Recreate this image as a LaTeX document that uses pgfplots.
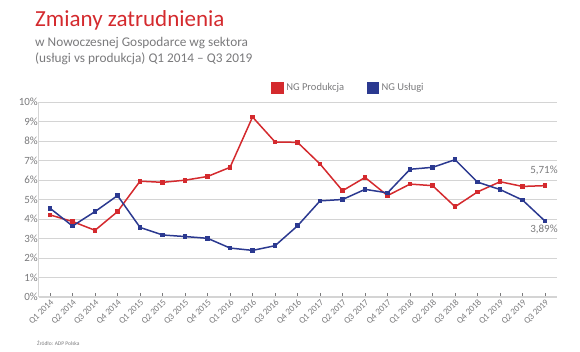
\documentclass[border=0pt]{standalone}
\usepackage{pgfplots}
\pgfplotsset{compat=1.18}
\usepackage{fontspec}
\setmainfont{Carlito}
\definecolor{ngred}{HTML}{D42A2E}
\definecolor{ngblue}{HTML}{2B3990}
\definecolor{txtgray}{HTML}{7A7A7C}
\definecolor{gridgray}{HTML}{D4D4D4}
\begin{document}
\begin{tikzpicture}[x=1pt,y=1pt]
\useasboundingbox (0,0) rectangle (580,352);
\node[anchor=base west,inner sep=0pt,text=ngred,font=\fontsize{23}{25}\selectfont] at (35,325) {Zmiany zatrudnienia};
\node[anchor=base west,inner sep=0pt,text=txtgray,font=\fontsize{13.3}{14}\selectfont] at (35,305.5) {w Nowoczesnej Gospodarce wg sektora};
\node[anchor=base west,inner sep=0pt,text=txtgray,font=\fontsize{13.3}{14}\selectfont] at (35,289.5) {(usługi vs produkcja) Q1 2014 – Q3 2019};
\node[anchor=base west,inner sep=0pt,text=txtgray,font=\fontsize{5.5}{6}\selectfont] at (37,6) {Źródło: ADP Polska};
\begin{axis}[
  at={(39pt,55pt)}, anchor=south west,
  scale only axis, width=518pt, height=195pt,
  xmin=-0.49, xmax=22.53, ymin=0, ymax=10,
  axis lines*=left,
  axis line style={draw=gridgray, line width=1pt},
  x axis line style={-}, y axis line style={-},
  ymajorgrids, grid style={gridgray, line width=0.8pt},
  ytick={0,1,...,10},
  yticklabels={0\%,1\%,2\%,3\%,4\%,5\%,6\%,7\%,8\%,9\%,10\%},
  xtick={0,1,...,22},
  xticklabels={Q1 2014,Q2 2014,Q3 2014,Q4 2014,Q1 2015,Q2 2015,Q3 2015,Q4 2015,Q1 2016,Q2 2016,Q3 2016,Q4 2016,Q1 2017,Q2 2017,Q3 2017,Q4 2017,Q1 2018,Q2 2018,Q3 2018,Q4 2018,Q1 2019,Q2 2019,Q3 2019},
  x tick label style={rotate=45, anchor=north east, font=\fontsize{9}{10}\selectfont, text=txtgray, inner sep=1pt},
  y tick label style={font=\fontsize{11}{12}\selectfont, text=txtgray, inner sep=1pt},
  xtick style={draw=txtgray, line width=0.6pt},
  ytick style={draw=none},
  tick align=inside, major tick length=4pt,
  legend columns=2,
  legend style={draw=none, fill=none, at={(axis description cs:0.448,1.072)}, anchor=west, inner sep=0pt,
    font=\fontsize{10.5}{12}\selectfont, text=txtgray,
    /tikz/every even column/.append style={column sep=20pt},
    nodes={inner sep=2.5pt}},
  legend image code/.code={\fill[#1] (0pt,-5pt) rectangle (11pt,5pt);},
]
\addplot[color=ngred, line width=1.5pt, mark=square*, mark size=1.6pt] coordinates {
(0,4.21)(1,3.87)(2,3.42)(3,4.38)(4,5.94)(5,5.88)(6,5.99)(7,6.18)(8,6.65)(9,9.23)(10,7.95)(11,7.93)
(12,6.82)(13,5.45)(14,6.13)(15,5.20)(16,5.79)(17,5.71)(18,4.63)(19,5.39)(20,5.91)(21,5.67)(22,5.71)};
\addlegendentry{NG Produkcja}
\addplot[color=ngblue, line width=1.5pt, mark=square*, mark size=1.6pt] coordinates {
(0,4.55)(1,3.64)(2,4.38)(3,5.20)(4,3.57)(5,3.18)(6,3.10)(7,3.01)(8,2.51)(9,2.39)(10,2.63)(11,3.65)
(12,4.93)(13,5.00)(14,5.52)(15,5.34)(16,6.55)(17,6.65)(18,7.04)(19,5.89)(20,5.51)(21,4.97)(22,3.89)};
\addlegendentry{NG Usługi}
\node[text=txtgray, font=\fontsize{11}{12}\selectfont, inner sep=0pt] at (axis cs:21.95,6.5) {5,71\%};
\node[text=txtgray, font=\fontsize{11}{12}\selectfont, inner sep=0pt] at (axis cs:21.95,3.44) {3,89\%};
\end{axis}
\end{tikzpicture}
\end{document}
